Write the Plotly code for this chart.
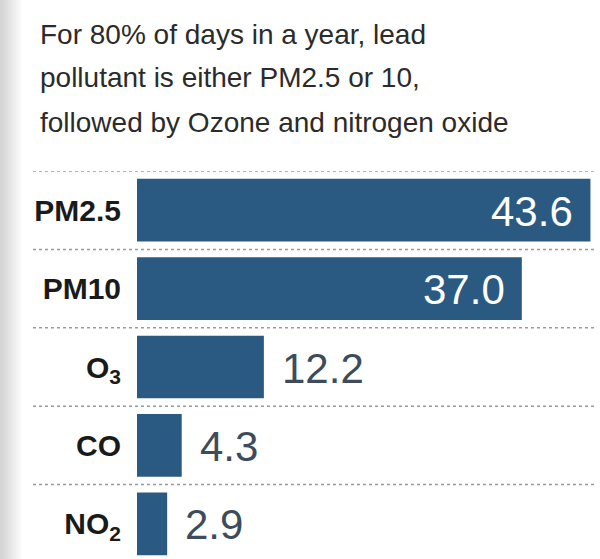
import plotly.graph_objects as go

categories = ["PM2.5", "PM10", "O<sub>3</sub>", "CO", "NO<sub>2</sub>"]
values = [43.6, 37.0, 12.2, 4.3, 2.9]
value_labels = ["43.6", "37.0", "12.2", "4.3", "2.9"]
inside = [True, True, False, False, False]

title_lines = ["For 80% of days in a year, lead",
               "pollutant is either PM2.5 or 10,",
               "followed by Ozone and nitrogen oxide"]

BAR = "#2a5a82"
FONT = "Liberation Sans, Arial, sans-serif"

idx = list(range(len(categories)))

fig = go.Figure()
fig.add_trace(go.Bar(
    x=values, y=idx, orientation="h",
    marker=dict(color=BAR, line=dict(width=0)),
    width=0.8, hoverinfo="skip",
))

W, H = 600, 559
L, T = 137, 171
plot_w = W - L
px_per_unit = 10.4
x_max = plot_w / px_per_unit
cat_px = 78.4
y_bottom = -0.5 + (H - T) / cat_px


def py(p):
    return (H - p) / (H - T)


annotations = []
for i, (v, lab, ins) in enumerate(zip(values, value_labels, inside)):
    annotations.append(dict(
        x=v, y=i, xref="x", yref="y", text=lab, showarrow=False,
        xanchor="right" if ins else "left",
        xshift=-15 if ins else 16, yshift=-1,
        font=dict(family=FONT, size=42, color="white" if ins else "#3d4b5a"),
    ))

for k, (line, base) in enumerate(zip(title_lines, [46, 89, 133])):
    annotations.append(dict(
        x=(38 - L) / plot_w, y=py(base - 11), xref="paper", yref="paper",
        text=line, showarrow=False, xanchor="left", yanchor="middle",
        align="left", font=dict(family=FONT, size=28, color="#2b2b2b"),
    ))

shapes = []
# left gray gradient strip
n = 12
for k in range(n):
    shade = int(212 + (255 - 212) * k / (n - 1))
    x0 = -L / plot_w + k * 2 / plot_w
    shapes.append(dict(type="rect", xref="paper", yref="paper",
                       x0=x0, x1=x0 + 2 / plot_w, y0=-0.1, y1=2,
                       fillcolor=f"rgb({shade},{shade},{shade})",
                       line=dict(width=0), layer="below"))
# dotted separators between categories
for i in range(len(categories)):
    shapes.append(dict(type="line", xref="paper", yref="y",
                       x0=(33 - L) / plot_w, x1=(597 - L) / plot_w,
                       y0=i - 0.5, y1=i - 0.5,
                       line=dict(color="#9a9a9a", width=1.5, dash="dot"),
                       layer="below"))

fig.update_layout(
    width=W, height=H,
    margin=dict(l=L, r=0, t=T, b=0),
    paper_bgcolor="white", plot_bgcolor="white",
    showlegend=False,
    xaxis=dict(range=[0, x_max], visible=False, fixedrange=True),
    yaxis=dict(range=[y_bottom, -0.5], tickvals=idx, ticktext=[f"<b>{c}</b>" for c in categories],
               showgrid=False, zeroline=False, showline=False,
               ticks="outside", ticklen=9, tickcolor="rgba(0,0,0,0)",
               tickfont=dict(family=FONT, size=30, color="#1a1a1a"),
               fixedrange=True),
    annotations=annotations, shapes=shapes,
)

fig.write_html("out.html")
